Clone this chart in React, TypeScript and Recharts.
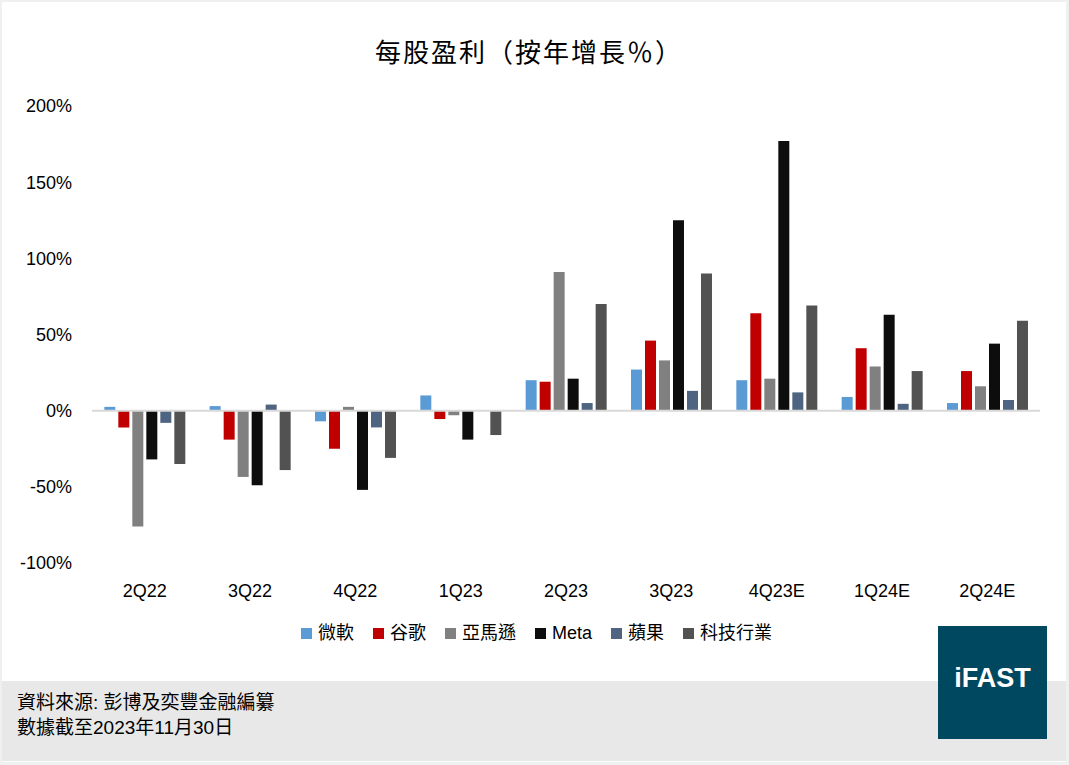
import { Bar, BarChart, ReferenceLine, XAxis, YAxis } from "recharts";

const quarters = ["2Q22", "3Q22", "4Q22", "1Q23", "2Q23", "3Q23", "4Q23E", "1Q24E", "2Q24E"];

const microsoft = [2.5, 3, -7, 10, 20, 27, 20, 9, 5];
const google = [-11, -19, -25, -5.5, 19, 46, 64, 41, 26];
const amazon = [-76, -43.5, 2.5, -3, 91, 33, 21, 29, 16];
const meta = [-32, -49, -52, -19, 21, 125, 177, 63, 44];
const apple = [-8, 4, -11, 0, 5, 13, 12, 4.5, 7];
const techSector = [-35, -39, -31, -16, 70, 90, 69, 26, 59];

const yTicks = [-100, -50, 0, 50, 100, 150, 200];

const series = [
  { key: "msft", name: "微軟", color: "#5B9BD5", values: microsoft },
  { key: "googl", name: "谷歌", color: "#C00000", values: google },
  { key: "amzn", name: "亞馬遜", color: "#808080", values: amazon },
  { key: "meta", name: "Meta", color: "#0D0D0D", values: meta },
  { key: "aapl", name: "蘋果", color: "#4F6480", values: apple },
  { key: "tech", name: "科技行業", color: "#525252", values: techSector },
];

const data = quarters.map((q, i) => {
  const row: Record<string, string | number> = { quarter: q };
  series.forEach((s) => {
    row[s.key] = s.values[i];
  });
  return row;
});

const font = '"Liberation Sans", Arial, "Noto Sans CJK TC", sans-serif';

export default function App() {
  return (
    <div
      style={{
        position: "absolute",
        left: 0,
        top: 0,
        width: 1069,
        height: 765,
        background: "#f0f0f0",
        fontFamily: font,
        overflow: "hidden",
      }}
    >
      <div style={{ position: "absolute", left: 2, top: 2, width: 1064, height: 760, background: "#fff" }} />
      <div style={{ position: "absolute", left: 2, top: 681, width: 1064, height: 80, background: "#e8e8e8" }} />

      <div
        style={{
          position: "absolute",
          left: 0,
          top: 38,
          width: 1058,
          textAlign: "center",
          fontSize: 26,
          letterSpacing: 2,
          lineHeight: "30px",
          color: "#000",
        }}
      >
        每股盈利（按年增長％）
      </div>

      <div style={{ position: "absolute", left: 0, top: 0 }}>
        <BarChart
          width={1069}
          height={765}
          data={data}
          margin={{ top: 106, right: 29, bottom: 172, left: 0 }}
          barCategoryGap="11.7%"
          barGap={3}
        >
          <XAxis
            dataKey="quarter"
            height={30}
            axisLine={false}
            tickLine={false}
            tickSize={0}
            tickMargin={21}
            interval={0}
            tick={{ fill: "#000", fontSize: 18, fontFamily: font }}
          />
          <YAxis
            width={92}
            domain={[-100, 200]}
            ticks={yTicks}
            tickFormatter={(v: number) => `${v}%`}
            axisLine={false}
            tickLine={false}
            tickSize={0}
            tickMargin={20}
            tick={{ fill: "#000", fontSize: 18, fontFamily: font }}
          />
          <ReferenceLine y={0} stroke="#d9d9d9" strokeWidth={2} />
          {series.map((s) => (
            <Bar key={s.key} dataKey={s.key} name={s.name} fill={s.color} isAnimationActive={false} />
          ))}
        </BarChart>
      </div>

      <div
        style={{
          position: "absolute",
          left: 301,
          top: 623,
          display: "flex",
          alignItems: "center",
          fontSize: 18,
          color: "#000",
        }}
      >
        {series.map((s) => (
          <div key={s.key} style={{ display: "flex", alignItems: "center", marginRight: 19 }}>
            <span style={{ width: 11, height: 11, background: s.color, marginRight: 6, display: "inline-block" }} />
            <span style={{ lineHeight: "20px" }}>{s.name}</span>
          </div>
        ))}
      </div>

      <div style={{ position: "absolute", left: 17, top: 690, fontSize: 19, lineHeight: "25px", color: "#000" }}>
        <div>資料來源: 彭博及奕豐金融編纂</div>
        <div>數據截至2023年11月30日</div>
      </div>

      <div
        style={{
          position: "absolute",
          left: 938,
          top: 626,
          width: 109,
          height: 113,
          background: "#00485F",
          color: "#fff",
          fontWeight: "bold",
          fontSize: 27,
          display: "flex",
          alignItems: "center",
          justifyContent: "center",
          paddingBottom: 8,
          boxSizing: "border-box",
          fontFamily: '"Liberation Sans", Arial, sans-serif',
        }}
      >
        iFAST
      </div>
    </div>
  );
}
